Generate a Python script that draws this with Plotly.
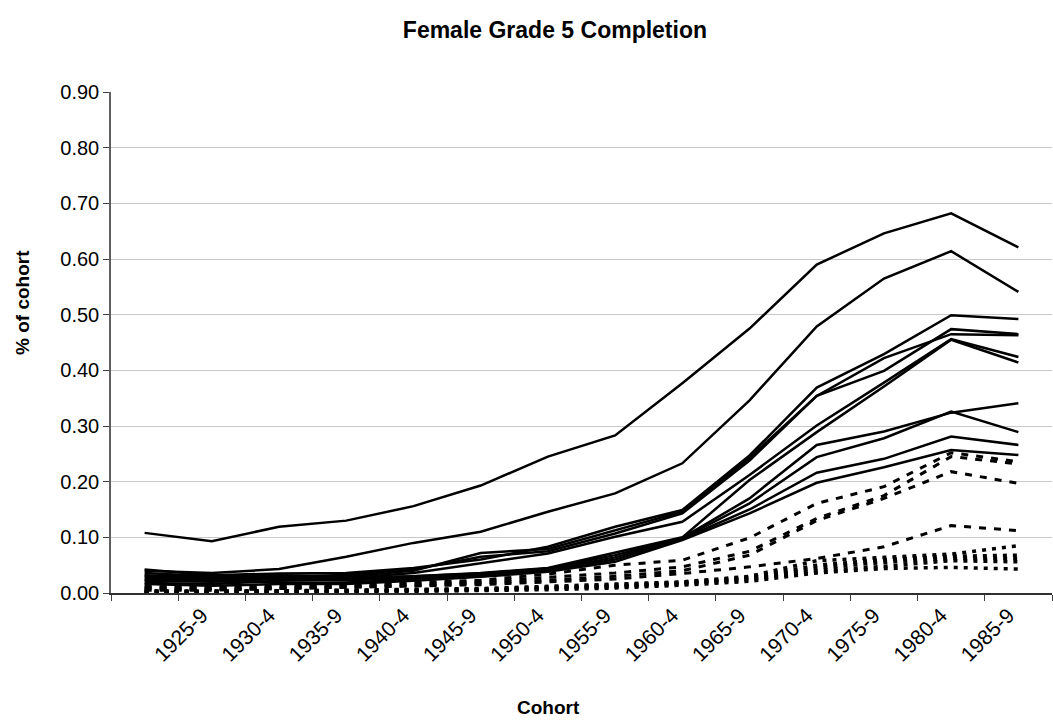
import plotly.graph_objects as go

# Categories (first cohort position has no label in the reference)
cohorts = ["1920-4", "1925-9", "1930-4", "1935-9", "1940-4", "1945-9", "1950-4",
           "1955-9", "1960-4", "1965-9", "1970-4", "1975-9", "1980-4", "1985-9"]
tick_labels = ["", "1925-9", "1930-4", "1935-9", "1940-4", "1945-9", "1950-4",
               "1955-9", "1960-4", "1965-9", "1970-4", "1975-9", "1980-4", "1985-9"]

# Solid series
s1 = [0.108, 0.093, 0.119, 0.130, 0.156, 0.193, 0.245, 0.283, 0.377, 0.475, 0.590, 0.646, 0.682, 0.621]
s2 = [0.040, 0.036, 0.043, 0.065, 0.090, 0.110, 0.146, 0.179, 0.233, 0.346, 0.479, 0.565, 0.614, 0.541]
s3 = [0.042, 0.032, 0.035, 0.036, 0.045, 0.060, 0.083, 0.119, 0.149, 0.247, 0.369, 0.429, 0.499, 0.492]
s4 = [0.032, 0.028, 0.032, 0.030, 0.040, 0.072, 0.079, 0.113, 0.146, 0.243, 0.354, 0.422, 0.465, 0.463]
s5 = [0.027, 0.024, 0.028, 0.033, 0.042, 0.065, 0.075, 0.107, 0.143, 0.238, 0.354, 0.399, 0.474, 0.465]
s6 = [0.022, 0.020, 0.025, 0.027, 0.036, 0.054, 0.071, 0.101, 0.128, 0.212, 0.301, 0.378, 0.456, 0.424]
s7 = [0.018, 0.016, 0.022, 0.025, 0.030, 0.036, 0.045, 0.072, 0.100, 0.203, 0.289, 0.371, 0.455, 0.414]
s8 = [0.036, 0.030, 0.030, 0.028, 0.030, 0.035, 0.044, 0.068, 0.099, 0.170, 0.266, 0.290, 0.324, 0.341]
s9 = [0.030, 0.026, 0.026, 0.023, 0.027, 0.032, 0.042, 0.064, 0.098, 0.161, 0.244, 0.278, 0.326, 0.289]
s10 = [0.024, 0.021, 0.019, 0.019, 0.024, 0.030, 0.040, 0.060, 0.097, 0.150, 0.216, 0.241, 0.281, 0.266]
s11 = [0.016, 0.013, 0.016, 0.016, 0.022, 0.029, 0.038, 0.056, 0.095, 0.143, 0.198, 0.226, 0.257, 0.248]

# Dashed series
d1 = [0.012, 0.010, 0.012, 0.015, 0.019, 0.023, 0.034, 0.050, 0.059, 0.099, 0.161, 0.191, 0.252, 0.236]
d2 = [0.010, 0.008, 0.010, 0.012, 0.016, 0.020, 0.028, 0.036, 0.047, 0.075, 0.134, 0.175, 0.245, 0.232]
d3 = [0.008, 0.006, 0.008, 0.010, 0.013, 0.018, 0.023, 0.030, 0.040, 0.068, 0.130, 0.170, 0.218, 0.197]
d4 = [0.005, 0.005, 0.008, 0.010, 0.012, 0.015, 0.020, 0.025, 0.035, 0.047, 0.062, 0.083, 0.121, 0.112]

# Square-dot series
e1 = [0.003, 0.003, 0.004, 0.005, 0.006, 0.008, 0.012, 0.016, 0.020, 0.030, 0.058, 0.064, 0.070, 0.085]
e2 = [0.002, 0.002, 0.003, 0.004, 0.005, 0.007, 0.010, 0.014, 0.019, 0.028, 0.050, 0.060, 0.066, 0.068]
e3 = [0.004, 0.003, 0.004, 0.004, 0.005, 0.006, 0.009, 0.012, 0.018, 0.026, 0.045, 0.055, 0.062, 0.062]
e4 = [0.001, 0.001, 0.002, 0.003, 0.004, 0.005, 0.008, 0.011, 0.016, 0.024, 0.040, 0.048, 0.058, 0.056]
e5 = [0.001, 0.001, 0.001, 0.002, 0.003, 0.004, 0.006, 0.009, 0.014, 0.021, 0.036, 0.044, 0.046, 0.043]

solid = [s1, s2, s3, s4, s5, s6, s7, s8, s9, s10, s11]
dashed = [d1, d2, d3, d4]
sqdot = [e1, e2, e3, e4, e5]

x = list(range(len(cohorts)))
FONT = "Liberation Sans, Arial, sans-serif"

fig = go.Figure()
for ys in sqdot:
    fig.add_trace(go.Scatter(x=x, y=ys, mode="lines",
                             line=dict(color="black", width=3.5, dash="4px,6px"),
                             showlegend=False, hoverinfo="skip"))
for ys in dashed:
    fig.add_trace(go.Scatter(x=x, y=ys, mode="lines",
                             line=dict(color="black", width=3, dash="7px,8px"),
                             showlegend=False, hoverinfo="skip"))
for ys in solid:
    fig.add_trace(go.Scatter(x=x, y=ys, mode="lines",
                             line=dict(color="black", width=2.5),
                             showlegend=False, hoverinfo="skip"))

fig.update_layout(
    width=1053, height=722,
    margin=dict(l=111, r=1, t=92, b=129),
    paper_bgcolor="white", plot_bgcolor="white",
    font=dict(family=FONT, color="black"),
    title=dict(text="<b>Female Grade 5 Completion</b>", x=0.527, xanchor="center",
               y=1 - 30 / 722, yanchor="middle", font=dict(size=23, family=FONT)),
    xaxis=dict(range=[-0.5, 13.5], tickmode="array", tickvals=x, ticktext=tick_labels,
               tickangle=-45, ticks="", showgrid=False, zeroline=False,
               showline=True, linecolor="#303030", linewidth=1.5,
               ticklabelshift=-10,
               tickfont=dict(size=21, family=FONT),
               minor=dict(tickvals=[i - 0.5 for i in range(len(cohorts) + 1)],
                          ticks="outside", ticklen=6, tickcolor="#404040",
                          tickwidth=1, showgrid=False)),
    yaxis=dict(range=[0, 0.9], tick0=0, dtick=0.1, tickformat=".2f",
               ticks="outside", ticklen=6, tickcolor="#404040",
               showline=True, linecolor="#606060", linewidth=1.5,
               gridcolor="#c8c8c8", gridwidth=1, zeroline=False,
               tickfont=dict(size=20, family=FONT)),
    annotations=[
        dict(text="<b>% of cohort</b>", xref="paper", yref="paper",
             x=(22 - 111) / 941, y=(593 - 303) / 501, textangle=-90,
             xanchor="center", yanchor="middle", showarrow=False,
             font=dict(size=19, family=FONT)),
        dict(text="<b>Cohort</b>", xref="paper", yref="paper",
             x=(548 - 111) / 941, y=(593 - 707) / 501,
             xanchor="center", yanchor="middle", showarrow=False,
             font=dict(size=19, family=FONT)),
    ],
)

fig.write_html("out.html")
